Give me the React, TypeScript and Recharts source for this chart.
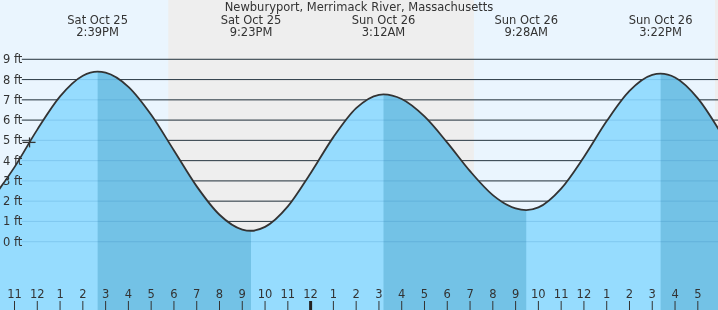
import React from 'react';
import {
  ComposedChart,
  Area,
  Line,
  XAxis,
  YAxis,
  ReferenceArea,
  ReferenceLine,
  ReferenceDot,
} from 'recharts';

const W = 718;
const H = 310;
const X_MIN = 10.363;
const X_MAX = 41.886;
const Y_MIN = -3.37;
const Y_MAX = 11.926;
const GRID_START = 11.32;
const FONT = '"DejaVu Sans", sans-serif';
const FONT_SIZE = 11.5;
const TEXT = '#333';

const TITLE = 'Newburyport, Merrimack River, Massachusetts';

// hours counted from Sat Oct 25 00:00
const hours = [
  10, 11, 12, 13, 14, 14.65, 15, 16, 17, 18, 19, 20, 21, 21.383, 22, 23, 24, 25, 26, 27,
  27.2, 28, 29, 30, 31, 32, 33, 33.467, 34, 35, 36, 37, 38, 39, 39.367, 40, 41, 42,
];
const heights = [
  2.08, 3.68, 5.53, 7.17, 8.19, 8.39, 8.34, 7.64, 6.26, 4.5, 2.73, 1.33, 0.6, 0.54, 0.73,
  1.74, 3.38, 5.16, 6.59, 7.25, 7.27, 7.04, 6.18, 4.89, 3.48, 2.3, 1.64, 1.56, 1.69, 2.62,
  4.18, 5.95, 7.44, 8.23, 8.29, 8.1, 7.07, 5.39,
];

const extremeTimes = [14.65, 21.383, 27.2, 33.467, 39.367];
const extremeKinds = ['high', 'low', 'high', 'low', 'high'];
const extremeDays = ['Sat Oct 25', 'Sat Oct 25', 'Sun Oct 26', 'Sun Oct 26', 'Sun Oct 26'];
const extremeClock = ['2:39PM', '9:23PM', '3:12AM', '9:28AM', '3:22PM'];

const nightStarts = [17.75, 41.75];
const nightEnds = [31.17, X_MAX];

const tickHours = [
  11, 12, 13, 14, 15, 16, 17, 18, 19, 20, 21, 22, 23, 24, 25, 26, 27, 28, 29, 30, 31, 32,
  33, 34, 35, 36, 37, 38, 39, 40, 41,
];
const tickLabels = [
  '11', '12', '1', '2', '3', '4', '5', '6', '7', '8', '9', '10', '11', '12', '1', '2', '3',
  '4', '5', '6', '7', '8', '9', '10', '11', '12', '1', '2', '3', '4', '5',
];
const midnightHour = 24;

const footLevels = [0, 1, 2, 3, 4, 5, 6, 7, 8, 9];
const footLabels = ['0 ft', '1 ft', '2 ft', '3 ft', '4 ft', '5 ft', '6 ft', '7 ft', '8 ft', '9 ft'];

const nowTime = 11.66;
const nowHeight = 4.9;

const isFalling = (t: number) => {
  for (let i = 0; i < extremeTimes.length; i++) {
    if (extremeKinds[i] !== 'high') continue;
    const end = i + 1 < extremeTimes.length ? extremeTimes[i + 1] : Infinity;
    if (t >= extremeTimes[i] && t <= end) return true;
  }
  return false;
};

const rows = hours.map((t, i) => ({
  t,
  h: heights[i],
  fall: isFalling(t) ? heights[i] : null,
}));

const BottomTick = (props: any) => {
  const { x, payload } = props;
  const idx = tickHours.indexOf(payload.value);
  const isMid = payload.value === midnightHour;
  return (
    <g>
      <line
        x1={x}
        x2={x}
        y1={301}
        y2={H}
        stroke={isMid ? '#222' : TEXT}
        strokeWidth={isMid ? 3 : 1}
      />
      <text x={x} y={298} textAnchor="middle" fontFamily={FONT} fontSize={FONT_SIZE} fill={TEXT}>
        {tickLabels[idx]}
      </text>
    </g>
  );
};

const TopTick = (props: any) => {
  const { x, payload } = props;
  const idx = extremeTimes.indexOf(payload.value);
  return (
    <g>
      <text x={x} y={24} textAnchor="middle" fontFamily={FONT} fontSize={FONT_SIZE} fill={TEXT}>
        {extremeDays[idx]}
      </text>
      <text x={x} y={36} textAnchor="middle" fontFamily={FONT} fontSize={FONT_SIZE} fill={TEXT}>
        {extremeClock[idx]}
      </text>
    </g>
  );
};

const LeftTick = (props: any) => {
  const { y, payload } = props;
  const idx = footLevels.indexOf(payload.value);
  return (
    <text x={3} y={y + 4} textAnchor="start" fontFamily={FONT} fontSize={FONT_SIZE} fill={TEXT}>
      {footLabels[idx]}
    </text>
  );
};

const NowMarker = (props: any) => {
  const { cx, cy } = props;
  return (
    <g>
      <line x1={cx - 7} x2={cx + 6} y1={cy} y2={cy} stroke="#333" strokeWidth={1.3} />
      <line x1={cx} x2={cx} y1={cy - 5} y2={cy + 5} stroke="#333" strokeWidth={1.3} />
    </g>
  );
};

export default function App() {
  return (
    <div style={{ position: 'fixed', left: 0, top: 0, width: W, height: H }}>
      <ComposedChart
        width={W}
        height={H}
        data={rows}
        margin={{ top: 0, right: 0, bottom: 0, left: 0 }}
      >
        <ReferenceArea
          x1={X_MIN}
          x2={X_MAX}
          fill="#eaf5fe"
          fillOpacity={1}
          stroke="none"
          zIndex={-300}
        />
        {nightStarts.map((s, i) => (
          <ReferenceArea
            key={'n' + i}
            x1={s}
            x2={nightEnds[i]}
            fill="#eeeeee"
            fillOpacity={1}
            stroke="none"
            zIndex={-290}
          />
        ))}
        {footLevels.map((k) => (
          <ReferenceLine
            key={'d' + k}
            segment={[
              { x: GRID_START, y: k },
              { x: X_MAX, y: k },
            ]}
            stroke="#333"
            strokeWidth={1}
            zIndex={-250}
          />
        ))}
        <Area
          dataKey="h"
          type="monotone"
          fill="#96dcfe"
          fillOpacity={1}
          stroke="none"
          baseValue="dataMin"
          dot={false}
          activeDot={false}
          isAnimationActive={false}
          zIndex={100}
        />
        <Area
          dataKey="fall"
          type="monotone"
          fill="#73c2e6"
          fillOpacity={1}
          stroke="none"
          baseValue="dataMin"
          connectNulls={false}
          dot={false}
          activeDot={false}
          isAnimationActive={false}
          zIndex={110}
        />
        {footLevels.map((k) => (
          <ReferenceLine
            key={'l' + k}
            segment={[
              { x: GRID_START, y: k },
              { x: X_MAX, y: k },
            ]}
            stroke="rgba(30,110,170,0.18)"
            strokeWidth={1}
            zIndex={150}
          />
        ))}
        <Line
          dataKey="h"
          type="monotone"
          stroke="#333"
          strokeWidth={1.8}
          dot={false}
          activeDot={false}
          isAnimationActive={false}
          zIndex={400}
        />
        <ReferenceDot
          x={nowTime}
          y={nowHeight}
          r={0}
          shape={NowMarker}
          ifOverflow="visible"
          zIndex={600}
        />
        <XAxis
          dataKey="t"
          type="number"
          domain={[X_MIN, X_MAX]}
          allowDataOverflow
          ticks={tickHours}
          interval={0}
          mirror
          axisLine={false}
          tickLine={false}
          tick={BottomTick}
          zIndex={500}
        />
        <XAxis
          xAxisId="top"
          dataKey="t"
          type="number"
          orientation="top"
          domain={[X_MIN, X_MAX]}
          allowDataOverflow
          ticks={extremeTimes}
          interval={0}
          mirror
          axisLine={false}
          tickLine={false}
          tick={TopTick}
          zIndex={500}
        />
        <YAxis
          type="number"
          domain={[Y_MIN, Y_MAX]}
          allowDataOverflow
          ticks={footLevels}
          interval={0}
          mirror
          axisLine={false}
          tickLine={false}
          tick={LeftTick}
          zIndex={500}
        />
      </ComposedChart>
      <div
        style={{
          position: 'absolute',
          left: 0,
          top: 0,
          width: W,
          textAlign: 'center',
          fontFamily: FONT,
          fontSize: FONT_SIZE,
          lineHeight: '14px',
          color: TEXT,
          pointerEvents: 'none',
        }}
      >
        {TITLE}
      </div>
    </div>
  );
}
